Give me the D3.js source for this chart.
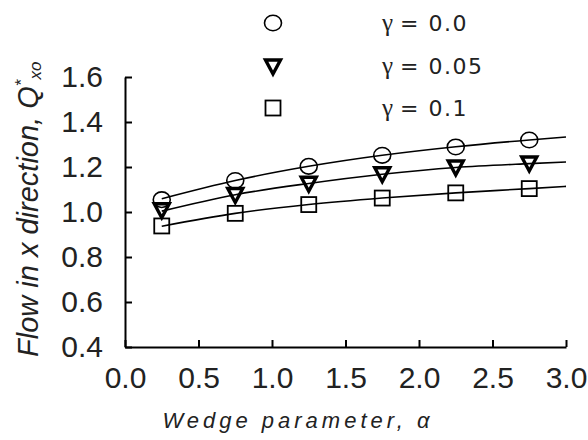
<!DOCTYPE html>
<html>
<head>
<meta charset="utf-8">
<script src="https://cdn.jsdelivr.net/npm/d3@7"></script>
<style>
  body { margin: 0; background: #fff; }
  svg { display: block; }
</style>
</head>
<body>
<svg class="chart" width="588" height="440"></svg>
<script>
(function() {
  'use strict';

// values
var alpha = [0.25, 0.75, 1.25, 1.75, 2.25, 2.75];
var q00  = [1.055, 1.140, 1.203, 1.252, 1.289, 1.320];
var q005 = [1.010, 1.078, 1.128, 1.170, 1.200, 1.218];
var q01  = [0.938, 0.994, 1.033, 1.062, 1.085, 1.104];

// fitted curves drawn through the markers
var fitX    = [0.25, 0.75, 1.25, 1.75, 2.25, 2.75, 3.0];
var fit00   = [1.059, 1.140, 1.203, 1.252, 1.290, 1.320, 1.333];
var fit005  = [1.004, 1.077, 1.127, 1.168, 1.198, 1.215, 1.222];
var fit01   = [0.937, 0.994, 1.033, 1.062, 1.085, 1.104, 1.114];

var legendLabels = ['0.0', '0.05', '0.1'];
var xTicks = [0, 0.5, 1, 1.5, 2, 2.5, 3];
var yTicks = [0.4, 0.6, 0.8, 1.0, 1.2, 1.4, 1.6];

var left = 125, right = 566, top = 77, bottom = 347;

var x = d3.scaleLinear().domain([0, 3]).range([left, right]);
var y = d3.scaleLinear().domain([0.4, 1.6]).range([bottom, top]);

var svg = d3.select('.chart');

var axisFont = '"Liberation Sans", Arial, sans-serif';

var yAxis = svg.append('g')
  .attr('transform', 'translate(' + left + ',0)')
  .call(d3.axisLeft(y).tickValues(yTicks).tickFormat(d3.format('.1f'))
    .tickSizeInner(-7).tickSizeOuter(0).tickPadding(22));

var xAxis = svg.append('g')
  .attr('transform', 'translate(0,' + bottom + ')')
  .call(d3.axisBottom(x).tickValues(xTicks).tickFormat(d3.format('.1f'))
    .tickSizeInner(-7).tickSizeOuter(0).tickPadding(20));

[xAxis, yAxis].forEach(function(g) {
  g.select('.domain').attr('stroke', '#000').attr('stroke-width', 2);
  g.selectAll('.tick line').attr('stroke', '#000').attr('stroke-width', 2);
  g.selectAll('.tick text')
    .attr('fill', '#222')
    .style('font-family', axisFont)
    .style('font-size', '30px');
});

// curves
var line = d3.line()
  .x(function(d) { return x(d[0]); })
  .y(function(d) { return y(d[1]); })
  .curve(d3.curveMonotoneX);

[fit00, fit005, fit01].forEach(function(vals) {
  svg.append('path')
    .datum(fitX.map(function(a, i) { return [a, vals[i]]; }))
    .attr('fill', 'none')
    .attr('stroke', '#000')
    .attr('stroke-width', 1.6)
    .attr('d', line);
});

function tri(cx, cy) {
  return 'M' + (cx - 7.5) + ',' + (cy - 6) + 'L' + (cx + 7.5) + ',' + (cy - 6) +
    'L' + cx + ',' + (cy + 8) + 'Z';
}

function drawCircle(g, cx, cy) {
  g.append('ellipse').attr('cx', cx).attr('cy', cy).attr('rx', 8.5).attr('ry', 7.8)
    .attr('fill', 'none').attr('stroke', '#000').attr('stroke-width', 1.6);
}
function drawTri(g, cx, cy) {
  g.append('path').attr('d', tri(cx, cy))
    .attr('fill', 'none').attr('stroke', '#000').attr('stroke-width', 3.4)
    .attr('stroke-linejoin', 'miter');
}
function drawSquare(g, cx, cy) {
  g.append('rect').attr('x', cx - 7.5).attr('y', cy - 7.5)
    .attr('width', 15).attr('height', 15)
    .attr('fill', 'none').attr('stroke', '#000').attr('stroke-width', 1.8);
}

var marks = svg.append('g');
alpha.forEach(function(a, i) {
  drawCircle(marks, x(a), y(q00[i]));
  drawTri(marks, x(a), y(q005[i]));
  drawSquare(marks, x(a), y(q01[i]));
});

// legend
var legend = svg.append('g');
var drawers = [drawCircle, drawTri, drawSquare];
var legendY = [23, 66, 108];
legendLabels.forEach(function(lab, i) {
  drawers[i](legend, 273, legendY[i]);
  var t = legend.append('text')
    .attr('x', 382)
    .attr('y', legendY[i])
    .attr('dy', '0.36em')
    .attr('fill', '#222')
    .style('font-size', '22px');
  t.append('tspan').style('font-family', '"Liberation Serif", serif').style('font-size', '25px').text('γ');
  t.append('tspan').style('font-family', '"DejaVu Sans", sans-serif')
    .style('letter-spacing', '1.5px').attr('dx', 7).text('= ' + lab);
});

// axis titles
svg.append('text')
  .attr('x', 298)
  .attr('y', 428)
  .attr('text-anchor', 'middle')
  .attr('fill', '#222')
  .style('font-family', axisFont)
  .style('font-style', 'italic')
  .style('font-size', '22px')
  .style('letter-spacing', '4px')
  .text('Wedge parameter, α');

var yt = svg.append('text')
  .attr('transform', 'translate(38,357) rotate(-90)')
  .attr('fill', '#222')
  .style('font-family', axisFont)
  .style('font-style', 'italic')
  .style('font-size', '29px');
yt.append('tspan').text('Flow in x direction, Q');
yt.append('tspan').attr('dy', -11).style('font-size', '17px').text('*');
yt.append('tspan').attr('dy', 14).style('font-size', '17px').text('xo');
}());
</script>
</body>
</html>
